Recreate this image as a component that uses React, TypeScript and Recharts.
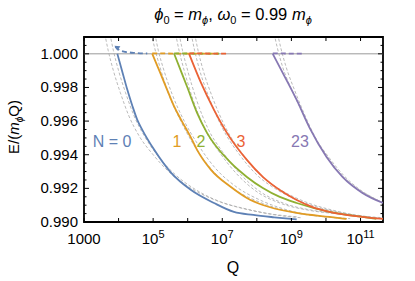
import React from 'react';
import { LineChart, Line, XAxis, YAxis, ReferenceLine, ReferenceArea } from 'recharts';

const W = 415;
const H = 281;
const PL = 84;
const PR = 383;
const PT = 37;
const PB = 222;
const FONT = '"Liberation Sans", Arial, sans-serif';

const X_MIN = 1e3;
const X_MAX = Math.pow(10, 11.65);
const Y_MIN = 0.99;
const Y_MAX = 1.001;

const xTickExps = [3, 4, 5, 6, 7, 8, 9, 10, 11];
const xLabelExps = [3, 5, 7, 9, 11];
const yMajorTicks = [0.99, 0.992, 0.994, 0.996, 0.998, 1.0];
const yMinorTicks = [0.9905, 0.991, 0.9915, 0.9925, 0.993, 0.9935, 0.9945, 0.995, 0.9955, 0.9965, 0.997, 0.9975, 0.9985, 0.999, 0.9995, 1.0005];

// Solid branches (log10 Q, E/(m Q))
const n0LogQ = [3.965, 4.1, 4.254, 4.4, 4.542, 4.686, 5.032, 5.522, 6.098, 6.761, 7.337, 7.9, 8.5, 9.153];
const n0E = [1.0, 0.999, 0.99786, 0.9969, 0.99607, 0.99548, 0.99429, 0.99292, 0.9919, 0.99113, 0.9906, 0.99042, 0.99028, 0.99015];
const n1LogQ = [4.974, 5.2, 5.406, 5.6, 5.81, 6.098, 6.271, 6.674, 7.251, 7.712, 8.173, 9.153, 10.104, 10.594];
const n1E = [1.0, 0.9989, 0.99786, 0.9969, 0.99607, 0.995, 0.99429, 0.9931, 0.99208, 0.99143, 0.99101, 0.99054, 0.9903, 0.99018];
const n2LogQ = [5.608, 5.8, 5.983, 6.271, 6.559, 7.222, 7.712, 8.173, 8.663, 9.153, 10.104, 11.055, 11.458];
const n2E = [1.0, 0.999, 0.99804, 0.99649, 0.9953, 0.99357, 0.99268, 0.99202, 0.99149, 0.99113, 0.9906, 0.9903, 0.99018];
const n3LogQ = [6.04, 6.386, 6.761, 7.135, 7.712, 8.173, 8.663, 9.153, 9.614, 10.104, 11.055, 11.65];
const n3E = [1.0, 0.99827, 0.99667, 0.9953, 0.99369, 0.99268, 0.9919, 0.99131, 0.99089, 0.9906, 0.9903, 0.99018];
const n23LogQ = [8.461, 8.749, 9.153, 9.527, 10.017, 10.478, 11.055, 11.65];
const n23E = [1.0, 0.99887, 0.99726, 0.9956, 0.99387, 0.99268, 0.99173, 0.99113];

// Dashed (unstable) branches
const d0LogQ = [3.908, 4.0, 4.196, 4.5, 4.83];
const d0E = [1.00042, 1.00025, 1.00012, 1.00005, 1.00002];
const d1LogQ = [4.974, 5.4, 5.9, 6.4, 6.9];
const d1E = [1.00003, 1.00002, 1.00001, 1.00001, 1.00001];
const d2LogQ = [5.608, 6.0, 6.5, 7.0];
const d2E = [1.00003, 1.00002, 1.00001, 1.00001];
const d3LogQ = [6.04, 6.5, 6.9, 7.15];
const d3E = [1.00003, 1.00002, 1.00001, 1.00001];
const d23LogQ = [8.461, 8.8, 9.1, 9.38];
const d23E = [1.00003, 1.00002, 1.00001, 1.00001];

// Gray dashed approximations
const g0aLogQ = [3.6, 3.7, 3.85, 4.05, 4.3, 4.6, 5.0, 5.5, 6.1, 6.8, 7.6, 8.5, 9.2];
const g0aE = [1.0012, 1.0002, 0.999, 0.9977, 0.9963, 0.9951, 0.994, 0.9929, 0.992, 0.9913, 0.9908, 0.99045, 0.9903];
const g0bLogQ = [3.75, 3.85, 4.0, 4.2, 4.45, 4.75, 5.15, 5.65, 6.25, 6.95, 7.75, 8.6, 9.3];
const g0bE = [1.0012, 1.0002, 0.999, 0.9977, 0.9963, 0.9951, 0.9939, 0.9928, 0.9919, 0.9912, 0.99075, 0.9904, 0.99025];
const g1aLogQ = [4.95, 5.05, 5.2, 5.45, 5.8, 6.2, 6.7, 7.3, 8.0, 9.0, 10.0, 10.6];
const g1aE = [1.0012, 1.0003, 0.9992, 0.9976, 0.996, 0.9945, 0.9931, 0.992, 0.99125, 0.9906, 0.9903, 0.9902];
const g1bLogQ = [5.05, 5.15, 5.3, 5.55, 5.9, 6.3, 6.8, 7.4, 8.1, 9.1, 10.1, 10.7];
const g1bE = [1.0012, 1.0002, 0.9991, 0.9976, 0.996, 0.9946, 0.9932, 0.9921, 0.9913, 0.9906, 0.9903, 0.9902];
const g2aLogQ = [5.65, 5.75, 5.9, 6.15, 6.5, 6.9, 7.4, 8.0, 8.7, 9.5, 10.5, 11.5];
const g2aE = [1.0012, 1.0002, 0.999, 0.9973, 0.9955, 0.9942, 0.9929, 0.9918, 0.9911, 0.9907, 0.99045, 0.9902];
const g2bLogQ = [5.75, 5.85, 6.0, 6.25, 6.6, 7.0, 7.5, 8.1, 8.8, 9.6, 10.6, 11.6];
const g2bE = [1.0012, 1.0002, 0.999, 0.9973, 0.9955, 0.9942, 0.9929, 0.9918, 0.9911, 0.9907, 0.99045, 0.9902];
const g3aLogQ = [6.1, 6.2, 6.35, 6.6, 7.0, 7.5, 8.0, 8.6, 9.3, 10.1, 11.0, 11.7];
const g3aE = [1.0012, 1.0002, 0.999, 0.9975, 0.9956, 0.994, 0.9928, 0.9919, 0.9912, 0.9907, 0.99035, 0.9902];
const g3bLogQ = [6.2, 6.3, 6.45, 6.7, 7.1, 7.6, 8.1, 8.7, 9.4, 10.2, 11.1, 11.7];
const g3bE = [1.0012, 1.0002, 0.999, 0.9975, 0.9956, 0.994, 0.9928, 0.9919, 0.9912, 0.9907, 0.99035, 0.99025];
const g23aLogQ = [8.5, 8.6, 8.75, 9.0, 9.3, 9.6, 10.0, 10.4, 10.9, 11.4, 11.7];
const g23aE = [1.0012, 1.0003, 0.9992, 0.9979, 0.9966, 0.9953, 0.994, 0.9929, 0.992, 0.9914, 0.9911];
const g23bLogQ = [8.6, 8.7, 8.85, 9.1, 9.4, 9.7, 10.1, 10.5, 11.0, 11.5, 11.7];
const g23bE = [1.0012, 1.0003, 0.9992, 0.9978, 0.9963, 0.995, 0.9938, 0.9928, 0.9919, 0.9913, 0.9911];

const seriesLabels = ['N = 0', '1', '2', '3', '23'];
const colors = ['#5E81B5', '#E19C24', '#8FB032', '#EB6235', '#8778B3'];

const pts = (lq: number[], e: number[]) => lq.map((v, i) => ({ q: Math.pow(10, v), e: e[i] }));

const solid = [pts(n0LogQ, n0E), pts(n1LogQ, n1E), pts(n2LogQ, n2E), pts(n3LogQ, n3E), pts(n23LogQ, n23E)];
const dashed = [pts(d0LogQ, d0E), pts(d1LogQ, d1E), pts(d2LogQ, d2E), pts(d3LogQ, d3E), pts(d23LogQ, d23E)];
const grays = [
  pts(g0aLogQ, g0aE), pts(g0bLogQ, g0bE),
  pts(g1aLogQ, g1aE), pts(g1bLogQ, g1bE),
  pts(g2aLogQ, g2aE), pts(g2bLogQ, g2bE),
  pts(g3aLogQ, g3aE), pts(g3bLogQ, g3bE),
  pts(g23aLogQ, g23aE), pts(g23bLogQ, g23bE),
];

const xTicks = xTickExps.map((p) => Math.pow(10, p));
const yTicks = [...yMajorTicks, ...yMinorTicks].sort((a, b) => a - b);

const XTick = (props: any) => {
  const { x, payload } = props;
  const p = Math.round(Math.log10(payload.value));
  const labeled = xLabelExps.includes(p);
  const len = 4;
  return (
    <g>
      <line x1={x} x2={x} y1={PB} y2={PB - len} stroke="#000" strokeWidth={1} />
      <line x1={x} x2={x} y1={PT} y2={PT + len} stroke="#000" strokeWidth={1} />
      {labeled && (p === 3 ? (
        <text x={x} y={244} textAnchor="middle" fontSize={15} fontFamily={FONT} fill="#000">1000</text>
      ) : (
        <text x={x} y={244} textAnchor="middle" fontSize={15} fontFamily={FONT} fill="#000">
          10<tspan dy={-6} fontSize={11}>{p}</tspan>
        </text>
      ))}
    </g>
  );
};

const YTick = (props: any) => {
  const { y, payload } = props;
  const v = payload.value;
  const major = yMajorTicks.some((t) => Math.abs(t - v) < 1e-7);
  const len = major ? 5 : 2.5;
  return (
    <g>
      <line x1={PL} x2={PL + len} y1={y} y2={y} stroke="#000" strokeWidth={1} />
      <line x1={PR} x2={PR - len} y1={y} y2={y} stroke="#000" strokeWidth={1} />
      {major && (
        <text x={78} y={y + 5} textAnchor="end" fontSize={15} fontFamily={FONT} fill="#000">{v.toFixed(3)}</text>
      )}
    </g>
  );
};

const arrowDot = (props: any) => {
  const { cx, cy, index } = props;
  if (index !== 0 || cx == null) return <g key={`a${index}`} />;
  return (
    <path key={`a${index}`} d={`M${cx - 1},${cy - 1} L${cx + 5},${cy - 0.5} L${cx + 2},${cy + 4} Z`} fill={colors[0]} />
  );
};

const labelPos = [
  { x: 112, y: 147 },
  { x: 177, y: 147 },
  { x: 201, y: 147 },
  { x: 241, y: 147 },
  { x: 300, y: 147 },
];

export default function App() {
  return (
    <div style={{ position: 'absolute', left: 0, top: 0, width: W, height: H, background: '#fff' }}>
      <LineChart width={W} height={H} margin={{ top: PT, right: W - PR, bottom: H - PB - 30, left: PL - 60 }}>
        <XAxis
          dataKey="q"
          type="number"
          scale="log"
          domain={[X_MIN, X_MAX]}
          allowDataOverflow
          ticks={xTicks}
          interval={0}
          tick={<XTick />}
          tickLine={false}
          axisLine={false}
          height={30}
        />
        <YAxis
          dataKey="e"
          type="number"
          domain={[Y_MIN, Y_MAX]}
          allowDataOverflow
          ticks={yTicks}
          interval={0}
          tick={<YTick />}
          tickLine={false}
          axisLine={false}
          width={60}
        />
        <ReferenceLine y={1} stroke="#9a9a9a" strokeWidth={1} />
        {grays.map((d, i) => (
          <Line
            key={`g${i}`}
            data={d}
            dataKey="e"
            type="monotone"
            stroke="#a8a8a8"
            strokeWidth={0.8}
            strokeDasharray="3 2"
            dot={false}
            isAnimationActive={false}
          />
        ))}
        {dashed.map((d, i) => (
          <Line
            key={`d${i}`}
            data={d}
            dataKey="e"
            type="monotone"
            stroke={colors[i]}
            strokeWidth={1.8}
            strokeDasharray="5 3"
            dot={i === 0 ? arrowDot : false}
            isAnimationActive={false}
          />
        ))}
        {solid.map((d, i) => (
          <Line
            key={`s${i}`}
            data={d}
            dataKey="e"
            type="monotone"
            stroke={colors[i]}
            strokeWidth={1.8}
            dot={false}
            isAnimationActive={false}
          />
        ))}
        <ReferenceArea x1={X_MIN} x2={X_MAX} y1={Y_MIN} y2={Y_MAX} fill="none" stroke="#000" strokeWidth={1.8} ifOverflow="visible" />
      </LineChart>
      <svg width={W} height={H} style={{ position: 'absolute', left: 0, top: 0, pointerEvents: 'none' }}>
        <text x={233} y={20} textAnchor="middle" fontSize={16.5} fontFamily={FONT} fill="#000">
          <tspan fontStyle="italic">ϕ</tspan>
          <tspan dy={4} fontSize={11}>0</tspan>
          <tspan dy={-4}> = </tspan>
          <tspan fontStyle="italic">m</tspan>
          <tspan dy={4} fontSize={11} fontStyle="italic">ϕ</tspan>
          <tspan dy={-4}>, </tspan>
          <tspan fontStyle="italic">ω</tspan>
          <tspan dy={4} fontSize={11}>0</tspan>
          <tspan dy={-4}> = 0.99 </tspan>
          <tspan fontStyle="italic">m</tspan>
          <tspan dy={4} fontSize={11} fontStyle="italic">ϕ</tspan>
        </text>
        <text transform="translate(19,127) rotate(-90)" textAnchor="middle" fontSize={15} fontFamily={FONT} fill="#000">
          E/(<tspan fontStyle="italic">m</tspan>
          <tspan dy={4} fontSize={10} fontStyle="italic">ϕ</tspan>
          <tspan dy={-4}>Q)</tspan>
        </text>
        <text x={233} y={273} textAnchor="middle" fontSize={16} fontFamily={FONT} fill="#000">Q</text>
        {seriesLabels.map((s, i) => (
          <text key={s} x={labelPos[i].x} y={labelPos[i].y} textAnchor="middle" fontSize={16} fontFamily={FONT} fill={colors[i]}>{s}</text>
        ))}
      </svg>
    </div>
  );
}
